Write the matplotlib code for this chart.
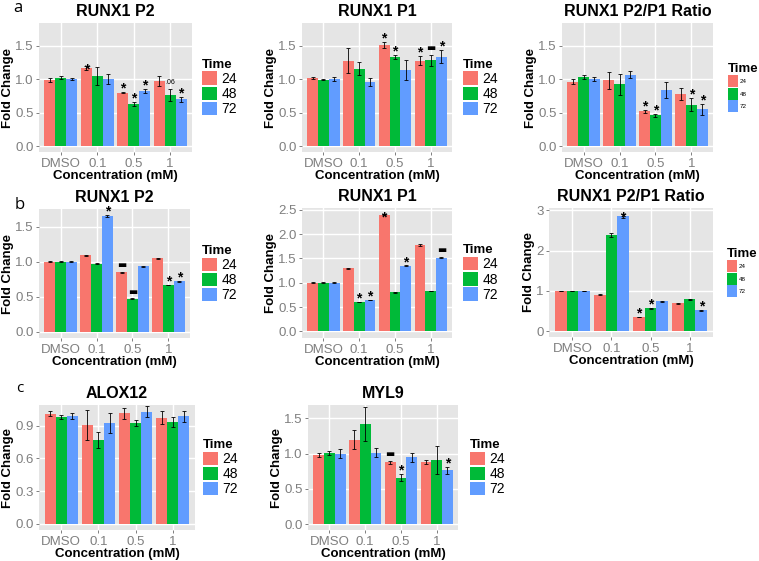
import numpy as np
import matplotlib
matplotlib.use('Agg')
import matplotlib.pyplot as plt
from matplotlib.patches import Patch

plt.rcParams['font.family'] = ['Liberation Sans', 'DejaVu Sans']

concs = ['DMSO', '0.1', '0.5', '1']
times = ['24', '48', '72']
colors = ['#F8766D', '#00BA38', '#619CFF']

# rows = time (24, 48, 72), columns = concentration (DMSO, 0.1, 0.5, 1)
# annotation marks: '*' above bar, '*_' star sitting on the bar top, '-' thick dash, other = small text
a_p2 = [[0.98, 1.17, 0.80, 0.97], [1.02, 1.045, 0.63, 0.77], [1.00, 1.00, 0.83, 0.70]]
a_p2_err = [[0.03, 0.03, 0.01, 0.07], [0.02, 0.13, 0.03, 0.09], [0.02, 0.07, 0.03, 0.04]]
a_p2_ann = [(1, 0, '*_'), (2, 0, '*'), (2, 1, '*'), (2, 2, '*'), (3, 1, '.06'), (3, 2, '*')]

a_p1 = [[1.015, 1.275, 1.51, 1.275], [0.99, 1.155, 1.335, 1.28], [1.00, 0.95, 1.135, 1.335]]
a_p1_err = [[0.02, 0.19, 0.05, 0.07], [0.01, 0.10, 0.03, 0.08], [0.03, 0.06, 0.15, 0.10]]
a_p1_ann = [(2, 0, '*'), (2, 1, '*'), (3, 0, '*'), (3, 1, '-'), (3, 2, '*')]

a_rat = [[0.96, 0.98, 0.52, 0.775], [1.035, 0.92, 0.46, 0.62], [1.005, 1.065, 0.835, 0.55]]
a_rat_err = [[0.04, 0.13, 0.02, 0.09], [0.03, 0.15, 0.02, 0.10], [0.03, 0.05, 0.12, 0.08]]
a_rat_ann = [(2, 0, '*'), (2, 1, '*'), (3, 1, '*'), (3, 2, '*')]

b_p2 = [[1.0, 1.09, 0.85, 1.05], [1.0, 0.975, 0.47, 0.67], [1.0, 1.66, 0.935, 0.72]]
b_p2_err = [[0.005, 0.01, 0.005, 0.005], [0.005, 0.01, 0.005, 0.005], [0.005, 0.015, 0.01, 0.005]]
b_p2_ann = [(1, 2, '*'), (2, 0, '-'), (2, 1, '-'), (3, 1, '*'), (3, 2, '*')]

b_p1 = [[1.0, 1.30, 2.40, 1.77], [1.0, 0.60, 0.80, 0.835], [1.0, 0.65, 1.35, 1.51]]
b_p1_err = [[0.005, 0.01, 0.01, 0.02], [0.005, 0.005, 0.005, 0.005], [0.005, 0.005, 0.01, 0.01]]
b_p1_ann = [(1, 1, '*'), (1, 2, '*'), (2, 0, '*_'), (2, 2, '*'), (3, 2, '-')]

b_rat = [[1.0, 0.91, 0.35, 0.69], [1.0, 2.38, 0.57, 0.795], [1.0, 2.86, 0.745, 0.52]]
b_rat_err = [[0.01, 0.01, 0.01, 0.01], [0.01, 0.05, 0.01, 0.01], [0.01, 0.04, 0.01, 0.01]]
b_rat_ann = [(1, 2, '*_'), (2, 0, '*'), (2, 1, '*'), (3, 2, '*')]

c_alox = [[1.01, 0.905, 1.016, 0.973], [0.98, 0.77, 0.924, 0.937], [0.99, 0.927, 1.028, 0.985]]
c_alox_err = [[0.025, 0.14, 0.05, 0.06], [0.02, 0.07, 0.03, 0.045], [0.03, 0.09, 0.05, 0.05]]

c_myl = [[0.985, 1.20, 0.875, 0.885], [1.01, 1.425, 0.66, 0.905], [1.00, 1.015, 0.945, 0.76]]
c_myl_err = [[0.03, 0.14, 0.02, 0.03], [0.03, 0.24, 0.05, 0.20], [0.06, 0.06, 0.07, 0.05]]
c_myl_ann = [(2, 0, '-'), (2, 1, '*'), (3, 2, '*')]

W, H = 759, 561
fig = plt.figure(figsize=(W / 100, H / 100), dpi=100)


def panel(box, title, mean, err, ylim, yticks, fmt, ann=(), small_legend=False, gap=10):
    x0, y0, x1, y1 = box
    ax = fig.add_axes([x0 / W, 1 - y1 / H, (x1 - x0) / W, (y1 - y0) / H])
    ax.set_facecolor('#E5E5E5')
    mean = np.array(mean)
    err = np.array(err)
    xs = np.arange(1, 5)
    bw = 0.3
    for t in range(3):
        xp = xs + (t - 1) * bw
        ax.bar(xp, mean[t], width=bw, color=colors[t], zorder=2)
        ax.errorbar(xp, mean[t], yerr=err[t], fmt='none', ecolor='black',
                    elinewidth=0.6, capsize=1.3, capthick=0.6, zorder=3)
    for ci, ti, lab in ann:
        x = xs[ci] + (ti - 1) * bw
        y = mean[ti, ci] + err[ti, ci]
        if lab in ('*', '*_'):
            dy = 2.2 if lab == '*' else -2.5
            ax.annotate('*', (x, y), xytext=(0, dy), textcoords='offset points',
                        ha='center', va='center', fontsize=10, fontweight='bold', zorder=4)
        elif lab == '-':
            ax.annotate('\u25ac', (x, y), xytext=(0, 5), textcoords='offset points',
                        ha='center', va='center', fontsize=7, family='DejaVu Sans', zorder=4)
        else:
            ax.annotate(lab, (x, y), xytext=(0, 4.5), textcoords='offset points',
                        ha='center', va='center', fontsize=5, zorder=4)
    ax.set_xlim(0.4, 4.6)
    ax.set_ylim(*ylim)
    ax.set_xticks(xs)
    ax.set_xticklabels(concs)
    ax.set_yticks(yticks)
    ax.set_yticklabels([fmt.format(v) for v in yticks])
    ax.grid(True, color='white', linewidth=1.0, zorder=0)
    ax.set_axisbelow(True)
    for s in ax.spines.values():
        s.set_visible(False)
    ax.tick_params(colors='#7F7F7F', labelsize=9.5, length=2.5, width=0.7, pad=1.5)
    ax.set_xlabel('Concentration (mM)', fontsize=9.5, fontweight='bold', labelpad=0.5)
    ax.set_ylabel('Fold Change', fontsize=9.5, fontweight='bold', labelpad=0.8)
    ax.set_title(title, fontsize=11.5, fontweight='bold', pad=5)
    handles = [Patch(facecolor=c, edgecolor='none') for c in colors]
    if small_legend:
        lfs, hl, hh = 4.5, 1.6, 2.6
    else:
        lfs, hl, hh = 10, 1.1, 1.1
    ax.legend(handles, times, loc='center left',
              bbox_to_anchor=((x1 + gap) / W, 1 - (y0 + y1) / 2 / H),
              bbox_transform=fig.transFigure, frameon=False, fontsize=lfs,
              title='Time', title_fontproperties={'weight': 'bold', 'size': 9.5},
              alignment='left', handlelength=hl, handleheight=hh,
              handletextpad=0.3, labelspacing=0.06, borderpad=0, borderaxespad=0)
    return ax


ta = [0.0, 0.5, 1.0, 1.5]
panel((39, 23, 192, 152), 'RUNX1 P2', a_p2, a_p2_err, (-0.0875, 1.8375), ta, '{:.1f}', a_p2_ann)
panel((302, 23, 452, 152), 'RUNX1 P1', a_p1, a_p1_err, (-0.0875, 1.8375), ta, '{:.1f}', a_p1_ann, gap=11)
panel((562, 23, 713, 152), 'RUNX1 P2/P1 Ratio', a_rat, a_rat_err, (-0.0875, 1.8375), ta, '{:.1f}',
      a_rat_ann, small_legend=True, gap=15)

panel((39, 209, 190, 338), 'RUNX1 P2', b_p2, b_p2_err, (-0.09, 1.755), ta, '{:.1f}', b_p2_ann, gap=12)
panel((302, 208, 452, 338), 'RUNX1 P1', b_p1, b_p1_err, (-0.135, 2.535), [0.0, 0.5, 1.0, 1.5, 2.0, 2.5],
      '{:.1f}', b_p1_ann, gap=11)
panel((549, 208, 713, 337), 'RUNX1 P2/P1 Ratio', b_rat, b_rat_err, (-0.145, 3.06), [0, 1, 2, 3], '{:.0f}',
      b_rat_ann, small_legend=True, gap=14)

panel((39, 405, 195, 530), 'ALOX12', c_alox, c_alox_err, (-0.055, 1.09), [0.0, 0.3, 0.6, 0.9], '{:.1f}', gap=8)
panel((308, 405, 458, 530), 'MYL9', c_myl, c_myl_err, (-0.085, 1.69), ta, '{:.1f}', c_myl_ann, gap=12)

fig.text(13 / W, 1 - 8 / H, 'a', fontsize=12, family='Open Sans', va='center', ha='left')
fig.text(15 / W, 1 - 205 / H, 'b', fontsize=12, family='Open Sans', va='center', ha='left')
fig.text(16 / W, 1 - 389 / H, 'c', fontsize=11, family='Open Sans', va='center', ha='left')

fig.savefig('out.png', dpi=100)
